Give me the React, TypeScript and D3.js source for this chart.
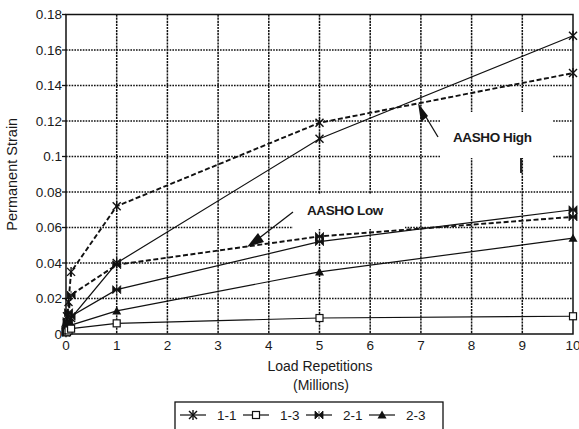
import React from "react";
import * as d3 from "d3";

// Load repetitions (millions) at which strain was recorded
const loadReps = [0, 0.02, 0.05, 0.1, 1, 5, 10];

// Permanent strain for each test series
const strain11 = [0.001, 0.002, 0.004, 0.009, 0.040, 0.110, 0.168];
const strain13 = [0.001, 0.001, 0.002, 0.003, 0.006, 0.009, 0.010];
const strain21 = [0.002, 0.004, 0.006, 0.010, 0.025, 0.052, 0.070];
const strain23 = [0.001, 0.002, 0.003, 0.005, 0.013, 0.035, 0.054];

// AASHO predicted curves
const aashoHigh = [0.003, 0.010, 0.018, 0.035, 0.072, 0.119, 0.147];
const aashoLow = [0.002, 0.007, 0.012, 0.022, 0.039, 0.055, 0.066];

const xTicks = [0, 1, 2, 3, 4, 5, 6, 7, 8, 9, 10];
const yTicks = [0, 0.02, 0.04, 0.06, 0.08, 0.1, 0.12, 0.14, 0.16, 0.18];
const yTickLabels = ["0", "0.02", "0.04", "0.06", "0.08", "0.1", "0.12", "0.14", "0.16", "0.18"];

const legendItems = [
  { label: "1-1", marker: "asterisk" },
  { label: "1-3", marker: "square" },
  { label: "2-1", marker: "bowtie" },
  { label: "2-3", marker: "triangle" },
];

const W = 579;
const H = 429;
const FONT = "'Liberation Sans', Arial, Helvetica, sans-serif";

const x = d3.scaleLinear().domain([0, 10]).range([66, 573]);
const y = d3.scaleLinear().domain([0, 0.18]).range([334, 14.5]);

type Marker = "asterisk" | "square" | "bowtie" | "triangle";

function MarkerShape({ kind, cx, cy }: { kind: Marker; cx: number; cy: number }) {
  const s = 4;
  if (kind === "asterisk") {
    return (
      <g stroke="#111" strokeWidth={1.4}>
        <line x1={cx - s} y1={cy - s} x2={cx + s} y2={cy + s} />
        <line x1={cx - s} y1={cy + s} x2={cx + s} y2={cy - s} />
        <line x1={cx} y1={cy - s - 1} x2={cx} y2={cy + s + 1} />
      </g>
    );
  }
  if (kind === "square") {
    return (
      <rect x={cx - 3.5} y={cy - 3.5} width={7} height={7} fill="white" stroke="#111" strokeWidth={1.2} />
    );
  }
  if (kind === "bowtie") {
    return (
      <g fill="#111" stroke="#111" strokeWidth={0.8}>
        <path d={`M${cx - s},${cy - s}L${cx},${cy}L${cx - s},${cy + s}Z`} />
        <path d={`M${cx + s},${cy - s}L${cx},${cy}L${cx + s},${cy + s}Z`} />
        <line x1={cx} y1={cy - s} x2={cx} y2={cy + s} />
      </g>
    );
  }
  return <path d={`M${cx},${cy - 4.5}L${cx + 4.5},${cy + 3.5}L${cx - 4.5},${cy + 3.5}Z`} fill="#111" />;
}

const line = d3
  .line<[number, number]>()
  .x((d) => x(d[0]))
  .y((d) => y(d[1]));

const series: { values: number[]; marker: Marker; dashed: boolean }[] = [
  { values: aashoHigh, marker: "asterisk", dashed: true },
  { values: aashoLow, marker: "bowtie", dashed: true },
  { values: strain11, marker: "asterisk", dashed: false },
  { values: strain21, marker: "bowtie", dashed: false },
  { values: strain23, marker: "triangle", dashed: false },
  { values: strain13, marker: "square", dashed: false },
];

export default function App() {
  const x0 = x(0);
  const x1 = x(10);
  const y0 = y(0);
  const y1 = y(0.18);

  return (
    <svg
      width={W}
      height={H}
      style={{ position: "absolute", left: 0, top: 0, background: "white" }}
      fontFamily={FONT}
    >
      <rect x={0} y={0} width={W} height={H} fill="white" />

      {/* grid */}
      <g stroke="#111" strokeWidth={1.3} strokeDasharray="1.6,1.2">
        {yTicks.slice(1, -1).map((t) => (
          <line key={"h" + t} x1={x0} x2={x1} y1={y(t)} y2={y(t)} />
        ))}
      </g>
      <g stroke="#111" strokeWidth={1.5} strokeDasharray="2.2,0.9">
        {xTicks.slice(1, -1).map((t) => (
          <line key={"v" + t} x1={x(t)} x2={x(t)} y1={y1} y2={y0} />
        ))}
      </g>

      {/* annotation backgrounds interrupt the grid */}
      <rect x={441} y={112} width={112} height={46} fill="white" />
      <rect x={293} y={194} width={112} height={35} fill="white" />
      <line x1={521} x2={521} y1={158} y2={173} stroke="#111" strokeWidth={1.8} />

      {/* frame */}
      <rect x={x0} y={y1} width={x1 - x0} height={y0 - y1} fill="none" stroke="#111" strokeWidth={1.5} />

      {/* series lines */}
      {series.map((s, i) => (
        <path
          key={"l" + i}
          d={line(loadReps.map((r, j) => [r, s.values[j]] as [number, number])) || ""}
          fill="none"
          stroke="#111"
          strokeWidth={s.dashed ? 1.9 : 1.2}
          strokeDasharray={s.dashed ? "5,2.5" : undefined}
        />
      ))}

      {/* series markers */}
      {series.map((s, i) => (
        <g key={"m" + i}>
          {loadReps.map((r, j) => (
            <MarkerShape key={j} kind={s.marker} cx={x(r)} cy={y(s.values[j])} />
          ))}
        </g>
      ))}

      {/* y axis ticks and labels */}
      {yTicks.map((t, i) => (
        <g key={"yt" + t}>
          <line x1={x0 - 4} x2={x0} y1={y(t)} y2={y(t)} stroke="#111" strokeWidth={1.3} />
          <text x={x0 - 4} y={y(t)} dy="0.36em" textAnchor="end" fontSize={13.5} fill="#1a1a1a">
            {yTickLabels[i]}
          </text>
        </g>
      ))}

      {/* x axis labels */}
      {xTicks.map((t) => (
        <text key={"xt" + t} x={x(t)} y={y0 + 16} textAnchor="middle" fontSize={13.5} fill="#1a1a1a">
          {t}
        </text>
      ))}

      <text
        transform={`translate(17,${(y0 + y1) / 2}) rotate(-90)`}
        textAnchor="middle"
        fontSize={14.5}
        fill="#1a1a1a"
      >
        Permanent Strain
      </text>
      <text x={320} y={371} textAnchor="middle" fontSize={14} fill="#1a1a1a">
        Load Repetitions
      </text>
      <text x={321} y={390} textAnchor="middle" fontSize={14} fill="#1a1a1a">
        (Millions)
      </text>

      {/* annotations */}
      <text x={453} y={142} fontSize={13.5} fontWeight="bold" fill="#1a1a1a" letterSpacing={-0.4}>
        AASHO High
      </text>
      <line x1={438} y1={137} x2={423} y2={112} stroke="#111" strokeWidth={1.3} />
      <path d="M418,103 L428,116 L421,122 Z" fill="#111" />

      <text x={307} y={215} fontSize={13.5} fontWeight="bold" fill="#1a1a1a" letterSpacing={-0.4}>
        AASHO Low
      </text>
      <line x1={293} y1={212} x2={258} y2={239} stroke="#111" strokeWidth={1.3} />
      <path d="M247,247 L258,233 L264,242 Z" fill="#111" />

      {/* legend */}
      <rect x={175} y={402} width={268} height={40} fill="white" stroke="#111" strokeWidth={1.3} />
      {legendItems.map((it, i) => {
        const sx = 180 + i * 63;
        const cy = 415;
        return (
          <g key={it.label}>
            <line x1={sx} x2={sx + 26} y1={cy} y2={cy} stroke="#111" strokeWidth={1.2} />
            <MarkerShape kind={it.marker as Marker} cx={sx + 13} cy={cy} />
            <text x={sx + 37} y={cy} dy="0.36em" fontSize={13.5} fill="#1a1a1a">
              {it.label}
            </text>
          </g>
        );
      })}
    </svg>
  );
}
